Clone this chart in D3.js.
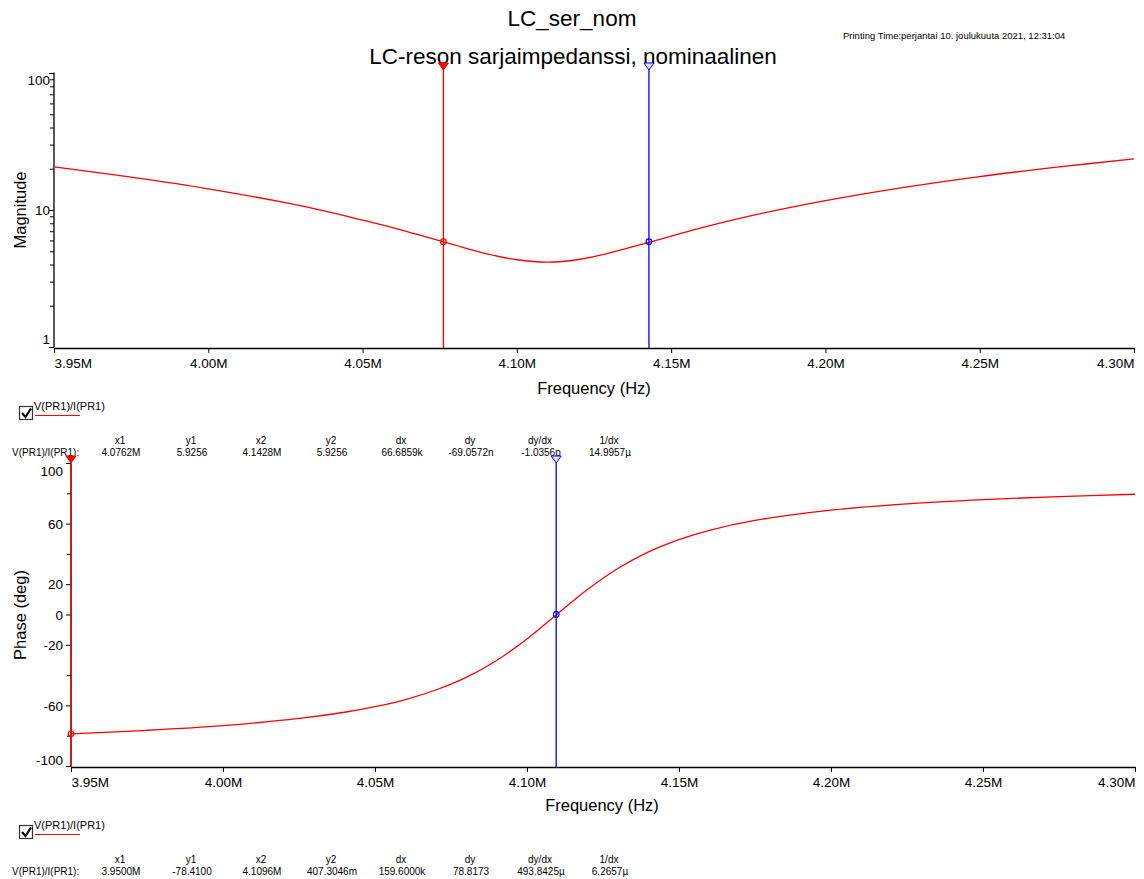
<!DOCTYPE html>
<html>
<head>
<meta charset="utf-8">
<script src="https://cdn.jsdelivr.net/npm/d3@7"></script>
<style>
  html, body { margin: 0; padding: 0; background: #fff; }
  svg { display: block; font-family: "Liberation Sans", Arial, sans-serif; }
</style>
</head>
<body>
<svg id="chart" width="1144" height="879"></svg>
<script>
// ---- data -------------------------------------------------------------
const freqMHz = [3.95, 3.975, 4.0, 4.025, 4.04, 4.05, 4.06, 4.07, 4.08, 4.09, 4.10, 4.11,
                 4.12, 4.13, 4.14, 4.15, 4.16, 4.175, 4.2, 4.225, 4.25, 4.275, 4.3];
const magnitude = [20.8, 17.5, 14.4, 11.4, 9.65, 8.5, 7.47, 6.47, 5.58, 4.85, 4.37, 4.2,
                   4.39, 4.9, 5.63, 6.5, 7.49, 9.06, 11.8, 14.7, 17.7, 20.7, 23.8];
const phaseDeg = [-78.41, -76.1, -73.0, -68.3, -64.2, -60.5, -55.8, -49.5, -41.2, -30.0, -15.8, 0.7,
                  17.0, 30.9, 41.7, 49.8, 55.9, 62.4, 69.2, 73.4, 76.2, 78.2, 79.7];

const freqTicksMHz = [3.95, 4.00, 4.05, 4.10, 4.15, 4.20, 4.25, 4.30];
const magMajorTicks = [1, 10, 100];
const magMinorTicks = [2, 3, 4, 5, 6, 7, 8, 9, 20, 30, 40, 50, 60, 70, 80, 90];
const phaseMajorTicks = [-100, -60, -20, 0, 20, 60, 100];
const phaseMinorTicks = [-80, -40, 40, 80];

// cursor readouts (x in MHz)
const magCursorX = [4.0762, 4.1428];
const magCursorY = [5.9256, 5.9256];
const phaseCursorX = [3.9500, 4.1096];
const phaseCursorY = [-78.4100, 0.4073046];

const tableHeads = ["x1", "y1", "x2", "y2", "dx", "dy", "dy/dx", "1/dx"];
const magTable = ["4.0762M", "5.9256", "4.1428M", "5.9256", "66.6859k", "-69.0572n", "-1.0356p", "14.9957µ"];
const phaseTable = ["3.9500M", "-78.4100", "4.1096M", "407.3046m", "159.6000k", "78.8173", "493.8425µ", "6.2657µ"];
const traceName = "V(PR1)/I(PR1)";

const titleMain = "LC_ser_nom";
const titleSub = "LC-reson sarjaimpedanssi, nominaalinen";
const printTime = "Printing Time:perjantai 10. joulukuuta 2021, 12:31:04";

// ---- setup ------------------------------------------------------------
const svg = d3.select("#chart");
const RED = "#ff0000", BLUE = "#0000ff";
const pts = freqMHz.map((f, i) => ({ f, m: magnitude[i], p: phaseDeg[i] }));

svg.append("text").attr("x", 572).attr("y", 26).attr("text-anchor", "middle")
  .attr("font-size", 22.5).text(titleMain);
svg.append("text").attr("x", 573).attr("y", 64).attr("text-anchor", "middle")
  .attr("font-size", 22.5).text(titleSub);
svg.append("text").attr("x", 843).attr("y", 39).attr("font-size", 9.5).text(printTime);

function fmtM(v) { return v.toFixed(2) + "M"; }

function xAxis(g, x, y0) {
  const ax = g.append("g").attr("transform", `translate(0,${y0})`)
    .call(d3.axisBottom(x).tickValues(freqTicksMHz).tickFormat(fmtM).tickSize(5).tickPadding(5).tickSizeOuter(0));
  ax.select(".domain").attr("stroke", "#000").attr("stroke-width", 1.3);
  ax.selectAll(".tick line").attr("stroke", "#000");
  ax.selectAll(".tick text").attr("font-size", 13.5).attr("fill", "#000")
    .attr("font-family", "Liberation Sans, Arial, sans-serif")
    .attr("text-anchor", (d, i) => i === 0 ? "start" : (i === freqTicksMHz.length - 1 ? "end" : "middle"));
  return ax;
}

function cursorMarker(g, cx, cy, color, filled) {
  const tri = d3.path();
  tri.moveTo(cx - 5, cy - 5); tri.lineTo(cx + 5, cy - 5); tri.lineTo(cx, cy + 2); tri.closePath();
  g.append("path").attr("d", tri.toString())
    .attr("fill", filled ? color : "#dfe4ff").attr("stroke", color).attr("stroke-width", 1);
}

function cursorLine(g, px, y1, y2, color) {
  g.append("line").attr("x1", px).attr("x2", px).attr("y1", y1).attr("y2", y2)
    .style("stroke", color).style("stroke-width", "1.3px");
}

function legendAndTable(g, yTop, rows) {
  // checkbox
  g.append("rect").attr("x", 19.5).attr("y", yTop + 0.5).attr("width", 13).attr("height", 13)
    .attr("fill", "#fff").attr("stroke", "#333").attr("stroke-width", 1.2);
  g.append("path").attr("d", `M22,${yTop + 7} L25.5,${yTop + 11} L31,${yTop + 2.5}`)
    .attr("fill", "none").attr("stroke", "#000").attr("stroke-width", 2.2);
  g.append("text").attr("x", 34).attr("y", yTop + 4).attr("font-size", 11).text(traceName);
  g.append("line").attr("x1", 35).attr("x2", 80).attr("y1", yTop + 9.5).attr("y2", yTop + 9.5)
    .style("stroke", RED).style("stroke-width", "1.2px");
  const colX = [120, 191, 261, 331, 401, 470, 540, 609];
  tableHeads.forEach((h, i) => g.append("text").attr("x", colX[i]).attr("y", yTop + 38)
    .attr("text-anchor", "middle").attr("font-size", 10).text(h));
  g.append("text").attr("x", 12).attr("y", yTop + 50).attr("font-size", 10).text(traceName + ":");
  rows.forEach((v, i) => g.append("text").attr("x", colX[i] + 1).attr("y", yTop + 50)
    .attr("text-anchor", "middle").attr("font-size", 10).text(v));
}

// ---- magnitude plot ---------------------------------------------------
{
  const g = svg.append("g");
  const x = d3.scaleLinear().domain([3.95, 4.30]).range([54, 1134]);
  const y = d3.scaleLog().domain([1, 100]).range([347.5, 73.5]);

  // y axis
  const ay = g.append("g").attr("transform", "translate(54,0)");
  ay.append("line").attr("y1", y(1)).attr("y2", y(100) - 1).attr("stroke", "#000").attr("stroke-width", 1.3);
  ay.selectAll("line.minor").data(magMinorTicks).join("line").attr("class", "minor")
    .attr("x1", -4).attr("x2", 0).attr("y1", d => y(d)).attr("y2", d => y(d)).attr("stroke", "#000");
  ay.selectAll("line.major").data(magMajorTicks).join("line").attr("class", "major")
    .attr("x1", -5).attr("x2", 0).attr("y1", d => y(d)).attr("y2", d => y(d)).attr("stroke", "#000");
  ay.selectAll("text").data(magMajorTicks).join("text")
    .attr("x", -4).attr("y", d => y(d) + (d === 100 ? 7 : d === 1 ? -8 : 0))
    .attr("dy", "0.35em").attr("text-anchor", "end").attr("font-size", 13.5).text(d => d);

  xAxis(g, x, 348);
  g.append("text").attr("x", 594).attr("y", 394).attr("text-anchor", "middle")
    .attr("font-size", 16.5).text("Frequency (Hz)");
  g.append("text").attr("transform", "translate(26,210) rotate(-90)")
    .attr("text-anchor", "middle").attr("font-size", 16.5).text("Magnitude");

  g.append("path").datum(pts)
    .attr("d", d3.line().x(d => x(d.f)).y(d => y(d.m)).curve(d3.curveCatmullRom))
    .attr("fill", "none").attr("stroke", RED).attr("stroke-width", 1.3);

  const cols = [RED, BLUE];
  magCursorX.forEach((cx, i) => {
    const px = x(cx);
    cursorLine(g, px, 68, 348, cols[i]);
    cursorMarker(g, px, 68, cols[i], i === 0);
    g.append("circle").attr("cx", px).attr("cy", y(magCursorY[i])).attr("r", 2.8)
      .attr("fill", "none").attr("stroke", cols[i]).attr("stroke-width", 1.2);
  });

  legendAndTable(g, 406, magTable);
}

// ---- phase plot -------------------------------------------------------
{
  const g = svg.append("g");
  const x = d3.scaleLinear().domain([3.95, 4.30]).range([71, 1135]);
  const y = d3.scaleLinear().domain([-100, 100]).range([766.5, 463.5]);

  const ay = g.append("g").attr("transform", "translate(71,0)");
  ay.append("line").attr("y1", y(-100)).attr("y2", y(100)).attr("stroke", "#000").attr("stroke-width", 1.3);
  ay.selectAll("line.minor").data(phaseMinorTicks).join("line").attr("class", "minor")
    .attr("x1", -4).attr("x2", 0).attr("y1", d => y(d)).attr("y2", d => y(d)).attr("stroke", "#000");
  ay.selectAll("line.major").data(phaseMajorTicks).join("line").attr("class", "major")
    .attr("x1", -5).attr("x2", 0).attr("y1", d => y(d)).attr("y2", d => y(d)).attr("stroke", "#000");
  ay.selectAll("text").data(phaseMajorTicks).join("text")
    .attr("x", -8).attr("y", d => y(d) + (d === 100 ? 8 : d === -100 ? -6 : 0))
    .attr("dy", "0.35em").attr("text-anchor", "end").attr("font-size", 13.5).text(d => d);

  xAxis(g, x, 767);
  g.append("text").attr("x", 602).attr("y", 811).attr("text-anchor", "middle")
    .attr("font-size", 16.5).text("Frequency (Hz)");
  g.append("text").attr("transform", "translate(26,615) rotate(-90)")
    .attr("text-anchor", "middle").attr("font-size", 16.5).text("Phase (deg)");

  g.append("path").datum(pts)
    .attr("d", d3.line().x(d => x(d.f)).y(d => y(d.p)).curve(d3.curveCatmullRom))
    .attr("fill", "none").attr("stroke", RED).attr("stroke-width", 1.3);

  const cols = [RED, BLUE];
  phaseCursorX.forEach((cx, i) => {
    const px = x(cx);
    cursorLine(g, px, 461, 767, cols[i]);
    cursorMarker(g, px, 461, cols[i], i === 0);
    g.append("circle").attr("cx", px).attr("cy", y(phaseCursorY[i])).attr("r", 2.8)
      .attr("fill", "none").attr("stroke", cols[i]).attr("stroke-width", 1.2);
  });

  legendAndTable(g, 825, phaseTable);
}
</script>
</body>
</html>
